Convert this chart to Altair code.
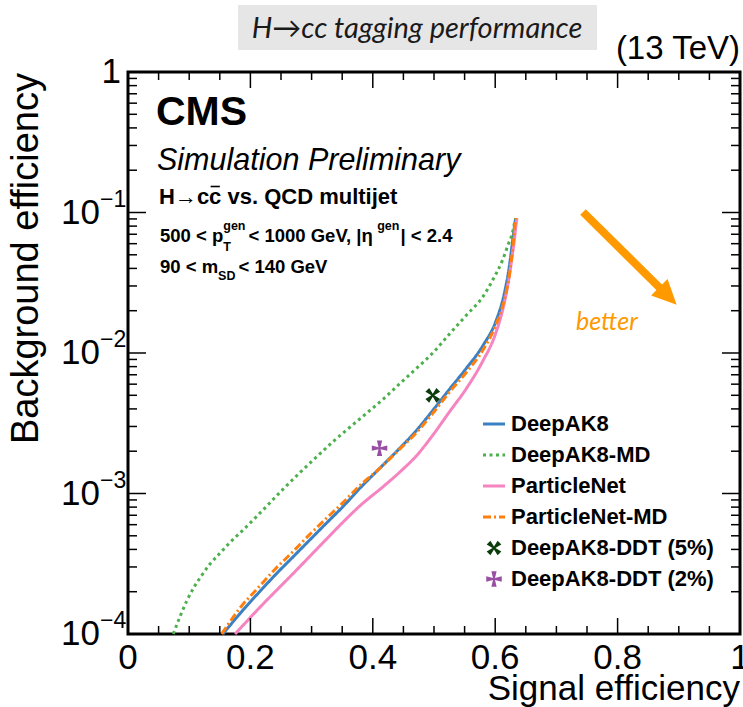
import altair as alt
import pandas as pd

# ---------------- data ----------------
names = ["DeepAK8", "DeepAK8-MD", "ParticleNet", "ParticleNet-MD"]

deepak8_sig = [0.155, 0.188, 0.215, 0.243, 0.270, 0.297, 0.324, 0.351, 0.378, 0.417,
               0.444, 0.471, 0.498, 0.525, 0.553, 0.580, 0.602, 0.615, 0.623, 0.628, 0.6315, 0.6335]
deepak8_bkg = [1.0e-4, 1.48e-4, 2.0e-4, 2.70e-4, 3.55e-4, 4.67e-4, 6.14e-4, 8.05e-4, 1.08e-3,
               1.60e-3, 2.10e-3, 2.80e-3, 3.90e-3, 5.50e-3, 7.80e-3, 1.13e-2, 1.72e-2, 2.66e-2,
               4.11e-2, 6.04e-2, 8.00e-2, 9.12e-2]

deepak8md_sig = [0.074, 0.085, 0.096, 0.107, 0.118, 0.134, 0.150, 0.166, 0.188, 0.210, 0.232, 0.253,
                 0.281, 0.308, 0.335, 0.362, 0.389, 0.417, 0.444, 0.471, 0.498, 0.525, 0.553, 0.580,
                 0.596, 0.612, 0.622, 0.628, 0.631, 0.6335]
deepak8md_bkg = [1.0e-4, 1.33e-4, 1.72e-4, 2.12e-4, 2.52e-4, 3.15e-4, 3.75e-4, 4.45e-4, 5.50e-4,
                 6.85e-4, 8.60e-4, 1.07e-3, 1.41e-3, 1.82e-3, 2.34e-3, 2.95e-3, 3.70e-3, 4.70e-3,
                 6.05e-3, 7.75e-3, 1.00e-2, 1.36e-2, 1.86e-2, 2.52e-2, 3.31e-2, 4.59e-2, 6.04e-2,
                 7.11e-2, 8.20e-2, 9.12e-2]

particlenet_sig = [0.175, 0.215, 0.270, 0.324, 0.350, 0.378, 0.417, 0.444, 0.471, 0.498,
                   0.525, 0.553, 0.580, 0.600, 0.613, 0.622, 0.628, 0.632, 0.634, 0.6355]
particlenet_bkg = [1.0e-4, 1.54e-4, 2.70e-4, 4.72e-4, 6.17e-4, 8.10e-4, 1.12e-3, 1.42e-3,
                   1.85e-3, 2.60e-3, 3.80e-3, 5.60e-3, 8.80e-3, 1.35e-2, 2.10e-2, 3.30e-2,
                   5.00e-2, 6.80e-2, 8.20e-2, 9.12e-2]

particlenetmd_sig = [0.153, 0.186, 0.213, 0.240, 0.268, 0.295, 0.322, 0.350, 0.378, 0.417, 0.444,
                     0.471, 0.498, 0.525, 0.553, 0.580, 0.600, 0.615, 0.624, 0.629, 0.632, 0.634]
particlenetmd_bkg = [1.0e-4, 1.59e-4, 2.14e-4, 2.88e-4, 3.80e-4, 5.01e-4, 6.53e-4, 8.51e-4, 1.13e-3,
                     1.59e-3, 2.07e-3, 2.70e-3, 3.72e-3, 5.25e-3, 7.30e-3, 1.05e-2, 1.55e-2, 2.40e-2,
                     3.80e-2, 5.75e-2, 7.94e-2, 9.12e-2]

ddt_names = ["DeepAK8-DDT (5%)", "DeepAK8-DDT (2%)"]
ddt_sig = [0.498, 0.411]
ddt_bkg = [5.0e-3, 2.1e-3]

x_major = [0, 0.2, 0.4, 0.6, 0.8, 1.0]
x_labels = ["0", "0.2", "0.4", "0.6", "0.8", "1"]
x_minor = [0.05, 0.1, 0.15, 0.25, 0.3, 0.35, 0.45, 0.5, 0.55, 0.65, 0.7, 0.75, 0.85, 0.9, 0.95]
y_major = [1e-4, 1e-3, 1e-2, 1e-1, 1.0]
y_exponents = ["\u22124", "\u22123", "\u22122", "\u22121", ""]
y_minor = [k * 10.0 ** e for e in range(-4, 0) for k in range(2, 10)]

# ---------------- styles / layout ----------------
OX, OY = 128, 72
W, H = 612, 562
FONT = "Liberation Sans"
HUM = "Lato"
colors = ["#3b80c2", "#4cb04c", "#f584c0", "#ff7f0e"]
dashes = [[1, 0], [3, 3.5], [1, 0], [8, 3, 2, 3]]
ddt_colors = ["#0b3d0b", "#984ea3"]
ddt_angles = [45, 0]
MALTESE = ("M -0.34,-1 L 0.34,-1 L 0.13,-0.13 L 1,-0.34 L 1,0.34 L 0.13,0.13 L 0.34,1 "
           "L -0.34,1 L -0.13,0.13 L -1,0.34 L -1,-0.34 L -0.13,-0.13 Z")

xsc = alt.Scale(domain=[0, 1], nice=False, zero=False)
ysc = alt.Scale(type="log", domain=[1e-4, 1], nice=False)
dummy = pd.DataFrame({"a": [0]})

rows = []
for nm, sx, sy in zip(names, [deepak8_sig, deepak8md_sig, particlenet_sig, particlenetmd_sig],
                      [deepak8_bkg, deepak8md_bkg, particlenet_bkg, particlenetmd_bkg]):
    for i, (a, b) in enumerate(zip(sx, sy)):
        rows.append({"name": nm, "sig": a, "bkg": b, "i": i})
curves = pd.DataFrame(rows)

layers = []

# curves
layers.append(alt.Chart(curves).mark_line(strokeWidth=3, interpolate="monotone").encode(
    x=alt.X("sig:Q", scale=xsc, axis=None),
    y=alt.Y("bkg:Q", scale=ysc, axis=None),
    color=alt.Color("name:N", scale=alt.Scale(domain=names, range=colors), legend=None),
    strokeDash=alt.StrokeDash("name:N", scale=alt.Scale(domain=names, range=dashes), legend=None),
    order="i:Q",
))

# DDT markers
for j in range(2):
    d = pd.DataFrame({"sig": [ddt_sig[j]], "bkg": [ddt_bkg[j]]})
    layers.append(alt.Chart(d).mark_point(shape=MALTESE, filled=True, size=240, angle=ddt_angles[j],
                                          color=ddt_colors[j], opacity=1).encode(
        x=alt.X("sig:Q", scale=xsc, axis=None), y=alt.Y("bkg:Q", scale=ysc, axis=None)))

# ticks (inside, on all four sides)
def xticks(vals, ln):
    d = pd.DataFrame({"v": vals})
    b = alt.Chart(d).mark_rule(color="black", strokeWidth=1.5).encode(
        x=alt.X("v:Q", scale=xsc, axis=None), y=alt.value(H), y2=alt.value(H - ln))
    t = alt.Chart(d).mark_rule(color="black", strokeWidth=1.5).encode(
        x=alt.X("v:Q", scale=xsc, axis=None), y=alt.value(0), y2=alt.value(ln))
    return [b, t]

def yticks(vals, ln):
    d = pd.DataFrame({"v": vals})
    l = alt.Chart(d).mark_rule(color="black", strokeWidth=1.5).encode(
        y=alt.Y("v:Q", scale=ysc, axis=None), x=alt.value(0), x2=alt.value(ln))
    r = alt.Chart(d).mark_rule(color="black", strokeWidth=1.5).encode(
        y=alt.Y("v:Q", scale=ysc, axis=None), x=alt.value(W), x2=alt.value(W - ln))
    return [l, r]

layers += xticks(x_major, 16) + xticks(x_minor, 8) + yticks(y_major, 18) + yticks(y_minor, 9)

# tick labels
xl = pd.DataFrame({"v": x_major, "lab": x_labels})
layers.append(alt.Chart(xl).mark_text(font=FONT, fontSize=35, baseline="alphabetic", align="center",
                                      color="black").encode(
    x=alt.X("v:Q", scale=xsc, axis=None), y=alt.value(597), text="lab:N"))
yl = pd.DataFrame({"v": y_major, "e": y_exponents})
layers.append(alt.Chart(yl[yl.e != ""]).mark_text(font=FONT, fontSize=35, baseline="middle", align="right",
                                                 color="black").encode(
    y=alt.Y("v:Q", scale=ysc, axis=None), x=alt.value(-28), text=alt.value("10")))
layers.append(alt.Chart(yl[yl.e != ""]).mark_text(font=FONT, fontSize=23, baseline="middle", align="left",
                                                 color="black", dy=-13).encode(
    y=alt.Y("v:Q", scale=ysc, axis=None), x=alt.value(-28), text="e:N"))
layers.append(alt.Chart(yl[yl.e == ""]).mark_text(font=FONT, fontSize=35, baseline="middle", align="right",
                                                 color="black").encode(
    y=alt.Y("v:Q", scale=ysc, axis=None), x=alt.value(-7), text=alt.value("1")))


def txt(x, y, s, size, weight="normal", style="normal", align="left", color="black", font=FONT,
        angle=0, baseline="alphabetic"):
    kw = dict(x=x - OX, y=y - OY, fontSize=size, fontWeight=weight, fontStyle=style, align=align,
              color=color, font=font, baseline=baseline)
    if angle:
        kw["angle"] = angle
    return alt.Chart(dummy).mark_text(**kw).encode(text=alt.value(s))


AB = {' ': 278, '<': 584, 'p': 611, 'T': 611, 'g': 611, 'e': 556, 'n': 611, 'G': 778, 'V': 667,
      ',': 278, '|': 280, '\u03b7': 480, '.': 278, 'm': 889, 'S': 667, 'D': 722, 'H': 722,
      'c': 556, '\u2192': 1000}
for ch in "0123456789":
    AB[ch] = 556


def tw(s, size):
    return sum(AB.get(c, 556) for c in s) / 1000.0 * size


# title box and header
layers.append(alt.Chart(dummy).mark_rect(color="#e6e6e6").encode(
    x=alt.value(238 - OX), x2=alt.value(597 - OX), y=alt.value(5 - OY), y2=alt.value(50 - OY)))
layers.append(txt(417, 38, "H\u2192cc tagging performance", 29, style="italic", align="center",
                  font=HUM, color="#1a1a1a"))
layers.append(txt(740, 59, "(13 TeV)", 33, align="right"))

# CMS labels
layers.append(txt(156, 125, "CMS", 41, weight="bold"))
layers.append(txt(157, 170, "Simulation Preliminary", 30.5, style="italic"))

# line 3 with c-bar
l3x, l3y = 159, 204
layers.append(txt(l3x, l3y, "H\u2192cc vs. QCD multijet", 22, weight="bold"))
bx0 = l3x + tw("H\u2192c", 22) + 1.5
bx1 = l3x + tw("H\u2192cc", 22) - 1.5
layers.append(alt.Chart(dummy).mark_rule(color="black", strokeWidth=1.6).encode(
    x=alt.value(bx0 - OX), x2=alt.value(bx1 - OX), y=alt.value(l3y - 17.5 - OY)))

# line 4
M, S = 18.5, 12.5
L4 = 242
layers.append(txt(160, L4, "500 < p", M, weight="bold"))
xa = 160 + tw("500 < p", M)
layers.append(txt(xa, L4 - 12, "gen", S, weight="bold"))
layers.append(txt(xa, L4 + 9, "T", S, weight="bold"))
xb = xa + tw("gen", S) + 3
layers.append(txt(xb, L4, " < 1000 GeV, |\u03b7", M, weight="bold"))
xc = xb + tw(" < 1000 GeV, |\u03b7", M)
layers.append(txt(xc, L4 - 12, "gen", S, weight="bold"))
xd = xc + tw("gen", S) + 1
layers.append(txt(xd, L4, "| < 2.4", M, weight="bold"))

# line 5
L5 = 273
layers.append(txt(160, L5, "90 < m", M, weight="bold"))
xe = 160 + tw("90 < m", M)
layers.append(txt(xe, L5 + 7, "SD", S, weight="bold"))
layers.append(txt(xe + tw("SD", S) + 3, L5, " < 140 GeV", M, weight="bold"))

# "better" arrow
ORANGE = "#ff9900"
layers.append(alt.Chart(dummy).mark_rule(color=ORANGE, strokeWidth=8).encode(
    x=alt.value(583 - OX), y=alt.value(212 - OY), x2=alt.value(666 - OX), y2=alt.value(294 - OY)))
layers.append(alt.Chart(dummy).mark_point(shape="M 1,0 L -1,-0.95 L -1,0.95 Z", filled=True, size=600,
                                          angle=45, color=ORANGE, opacity=1).encode(
    x=alt.value(668 - OX), y=alt.value(296 - OY)))
layers.append(txt(576, 330, "better", 25, style="italic", color=ORANGE, font=HUM))

# legend
LY0, LDY = 424, 31
for k, nm in enumerate(names):
    yk = LY0 + LDY * k - OY
    layers.append(alt.Chart(dummy).mark_rule(color=colors[k], strokeWidth=3, strokeDash=dashes[k]).encode(
        x=alt.value(483 - OX), x2=alt.value(505 - OX), y=alt.value(yk)))
    layers.append(txt(511, LY0 + LDY * k, nm, 22, weight="bold", baseline="middle"))
for j, nm in enumerate(ddt_names):
    k = 4 + j
    yk = LY0 + LDY * k - OY
    layers.append(alt.Chart(dummy).mark_point(shape=MALTESE, filled=True, size=240, angle=ddt_angles[j],
                                              color=ddt_colors[j], opacity=1).encode(
        x=alt.value(494 - OX), y=alt.value(yk)))
    layers.append(txt(511, LY0 + LDY * k, nm, 22, weight="bold", baseline="middle"))

# axis titles
layers.append(txt(740, 700, "Signal efficiency", 35, align="right"))
layers.append(txt(38, 73, "Background efficiency", 38, align="right", angle=270))

chart = alt.layer(*layers).properties(
    width=W, height=H,
    padding={"left": OX, "top": OY, "right": 743 - OX - W, "bottom": 707 - OY - H},
    autosize=alt.AutoSizeParams(type="none"),
    background="white",
).configure_view(stroke="black", strokeWidth=3)

chart.save("out.html", embed_options={"renderer": "svg", "actions": False})
